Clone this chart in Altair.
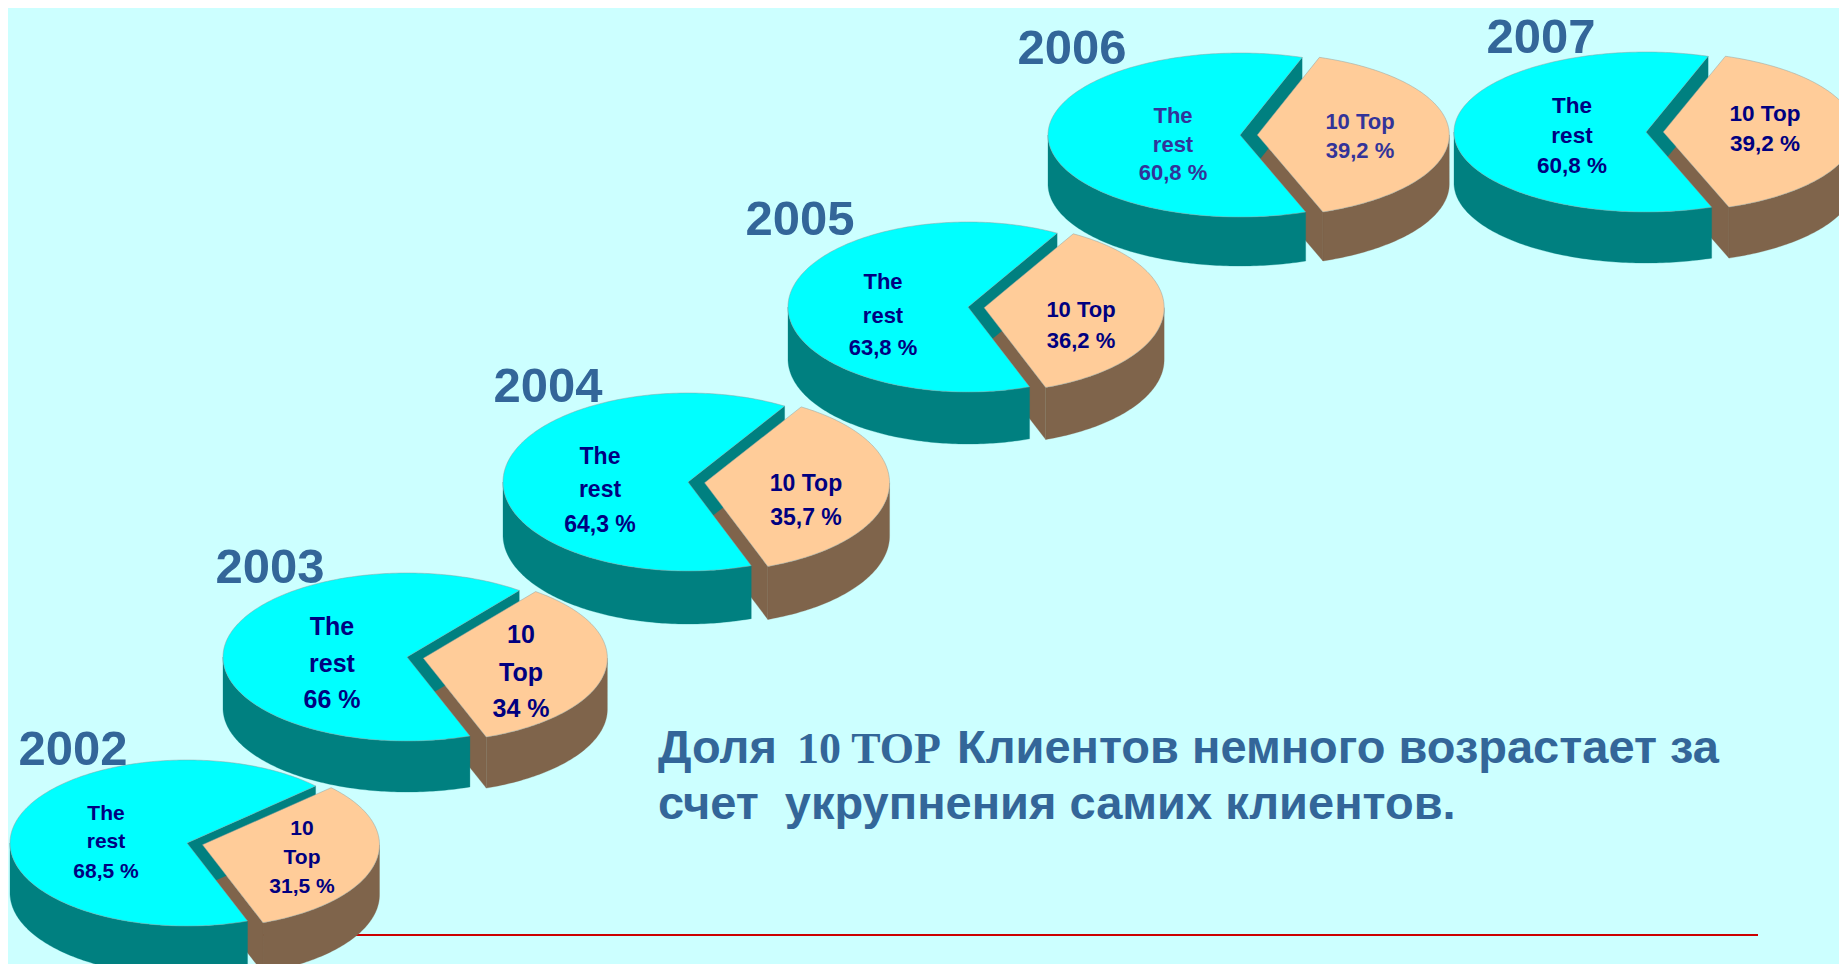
import altair as alt
import numpy as np
import pandas as pd

# ---------------- data values ----------------
years = ["2002", "2003", "2004", "2005", "2006", "2007"]
top10_share = [31.5, 34.0, 35.7, 36.2, 39.2, 39.2]
rest_share = [68.5, 66.0, 64.3, 63.8, 60.8, 60.8]
segment_names = ["The rest", "10 Top"]

title_parts = ["Доля", "10 TOP", "Клиентов немного возрастает за"]
title_line2 = "счет\u00a0 укрупнения самих клиентов."

# ---------------- layout (reference pixel space) ----------------
pie_cx = [187, 407, 688, 968, 1240, 1646]
pie_cy = [843, 657, 482, 307, 135, 132]
pie_rx = [177, 184, 185, 180, 192, 192]
pie_ry = [83, 84, 89, 85, 82, 80]
pie_depth = [50, 51, 53, 52, 49, 51]
start_angle = -70.0     # lower edge of the "10 Top" slice (degrees, math orientation)
explode = 0.09

year_x = [73, 270, 548, 800, 1072, 1541]
year_y = [765, 583, 402, 235, 64, 53]
year_size = 49

rest_label_x = [106, 332, 600, 883, 1173, 1572]
rest_label_y = [[820, 848, 878], [635, 672, 708], [464, 497, 532],
                [289, 323, 355], [123, 152, 180], [113, 143, 173]]
top_label_x = [302, 521, 806, 1081, 1360, 1765]
top_label_y = [[835, 864, 893], [643, 681, 717], [491, 525],
               [317, 348], [129, 158], [121, 151]]
label_size = [21, 25, 23, 22, 22, 22.5]
label_color = ["#000080", "#000080", "#000080", "#000080", "#333399", "#000080"]

title_x = [658, 797, 957]
title_y = [763, 819]

# styles
CYAN, TEAL = "#00FFFF", "#008080"
PEACH, BROWN = "#FFCC99", "#7F644B"
OUTLINE = "#8F9E9E"
YEAR_COLOR = "#336699"
BG = "#CCFFFF"

X0, X1, Y0, Y1 = 8, 1839, 8, 964


def fmt(v):
    return f"{v:g}".replace(".", ",") + " %"


rows = []
pid = [0]


def add_poly(pts, fill, stroke, layer):
    for k, (x, y) in enumerate(pts):
        rows.append(dict(pid=pid[0], k=k, x=float(x), y=float(y),
                         fill=fill, stroke=stroke, layer=layer))
    pid[0] += 1


def arc(sx, sy, rx, ry, t0, t1, dy=0.0):
    n = max(2, int(abs(t1 - t0)) + 1)
    ts = np.radians(np.linspace(t0, t1, n))
    return [(sx + rx * np.cos(t), sy - ry * np.sin(t) + dy) for t in ts]


for i in range(len(years)):
    p = top10_share[i] / 100.0
    cx, cy, rx, ry, d = pie_cx[i], pie_cy[i], pie_rx[i], pie_ry[i], pie_depth[i]
    a1 = start_angle + p * 360.0
    phi = np.radians(start_angle + p * 180.0)
    slices = [
        (cx + explode * rx * np.cos(phi), cy - explode * ry * np.sin(phi),
         start_angle, a1, PEACH, BROWN, "w1"),
        (cx, cy, a1, start_angle + 360.0, CYAN, TEAL, "w2"),
    ]
    for sx, sy, t0, t1, topc, sidec, wl in slices:
        for kk in (-1, 0, 1):
            lo = max(t0, 180 + 360 * kk)
            hi = min(t1, 360 + 360 * kk)
            if hi > lo:
                add_poly(arc(sx, sy, rx, ry, lo, hi) + arc(sx, sy, rx, ry, hi, lo, d),
                         sidec, sidec, wl)
        for a, first in ((t0, True), (t1, False)):
            c = np.cos(np.radians(a))
            if (c > 0) if first else (c < 0):
                rxp = sx + rx * np.cos(np.radians(a))
                ryp = sy - ry * np.sin(np.radians(a))
                add_poly([(sx, sy), (rxp, ryp), (rxp, ryp + d), (sx, sy + d)],
                         sidec, sidec, wl)
        add_poly([(sx, sy)] + arc(sx, sy, rx, ry, t0, t1), topc, OUTLINE, "top")

poly_df = pd.DataFrame(rows)

# text table
trows = []
for i in range(len(years)):
    trows.append(dict(x=year_x[i], y=year_y[i], text=years[i], size=year_size, color=YEAR_COLOR))
    rest_lines = ["The", "rest", fmt(rest_share[i])]
    if len(top_label_y[i]) == 3:
        top_lines = ["10", "Top", fmt(top10_share[i])]
    else:
        top_lines = ["10 Top", fmt(top10_share[i])]
    for t, yy in zip(rest_lines, rest_label_y[i]):
        trows.append(dict(x=rest_label_x[i], y=yy, text=t, size=label_size[i], color=label_color[i]))
    for t, yy in zip(top_lines, top_label_y[i]):
        trows.append(dict(x=top_label_x[i], y=yy, text=t, size=label_size[i], color=label_color[i]))
text_df = pd.DataFrame(trows)

title_sans = pd.DataFrame([
    dict(x=title_x[0], y=title_y[0], text=title_parts[0]),
    dict(x=title_x[2], y=title_y[0], text=title_parts[2]),
    dict(x=title_x[0], y=title_y[1], text=title_line2),
])
title_serif = pd.DataFrame([dict(x=title_x[1], y=title_y[0], text=title_parts[1])])
rule_df = pd.DataFrame([dict(x=240, x2=1758, y=935)])

xs = alt.Scale(domain=[X0, X1], nice=False, zero=False)
ys = alt.Scale(domain=[Y0, Y1], nice=False, zero=False, reverse=True)
X = alt.X("x:Q", scale=xs, axis=None)
Y = alt.Y("y:Q", scale=ys, axis=None)

base = alt.Chart(poly_df)


def poly_layer(layer, sw, so=1.0):
    return base.transform_filter(alt.datum.layer == layer).mark_line(
        interpolate="linear-closed", strokeWidth=sw, strokeOpacity=so, clip=True
    ).encode(
        x=X, y=Y,
        detail=alt.Detail("pid:N"),
        order=alt.Order("k:Q"),
        fill=alt.Fill("fill:N", scale=None),
        stroke=alt.Stroke("stroke:N", scale=None),
    )


rule = alt.Chart(rule_df).mark_rule(color="#CC0000", strokeWidth=2.2).encode(
    x=X, x2="x2:Q", y=Y)

walls_top10 = poly_layer("w1", 0.3)
walls_rest = poly_layer("w2", 0.3)
tops = poly_layer("top", 0.8, 0.6)

labels = alt.Chart(text_df).mark_text(
    align="center", baseline="alphabetic", font="Liberation Sans", fontWeight="bold"
).encode(x=X, y=Y, text="text:N",
         size=alt.Size("size:Q", scale=None),
         color=alt.Color("color:N", scale=None))

t_sans = alt.Chart(title_sans).mark_text(
    align="left", baseline="alphabetic", font="Liberation Sans", fontWeight="bold",
    fontSize=47, color=YEAR_COLOR
).encode(x=X, y=Y, text="text:N")

t_serif = alt.Chart(title_serif).mark_text(
    align="left", baseline="alphabetic", font="Liberation Serif", fontWeight="bold",
    fontSize=44, color=YEAR_COLOR
).encode(x=X, y=Y, text="text:N")

chart = alt.layer(rule, walls_top10, walls_rest, tops, labels, t_sans, t_serif).properties(
    width=X1 - X0, height=Y1 - Y0, padding=0, background=BG,
    autosize=alt.AutoSizeParams(type="none"),
).configure_view(stroke=None)

chart.save("out.html", embed_options={"renderer": "svg", "actions": False})
